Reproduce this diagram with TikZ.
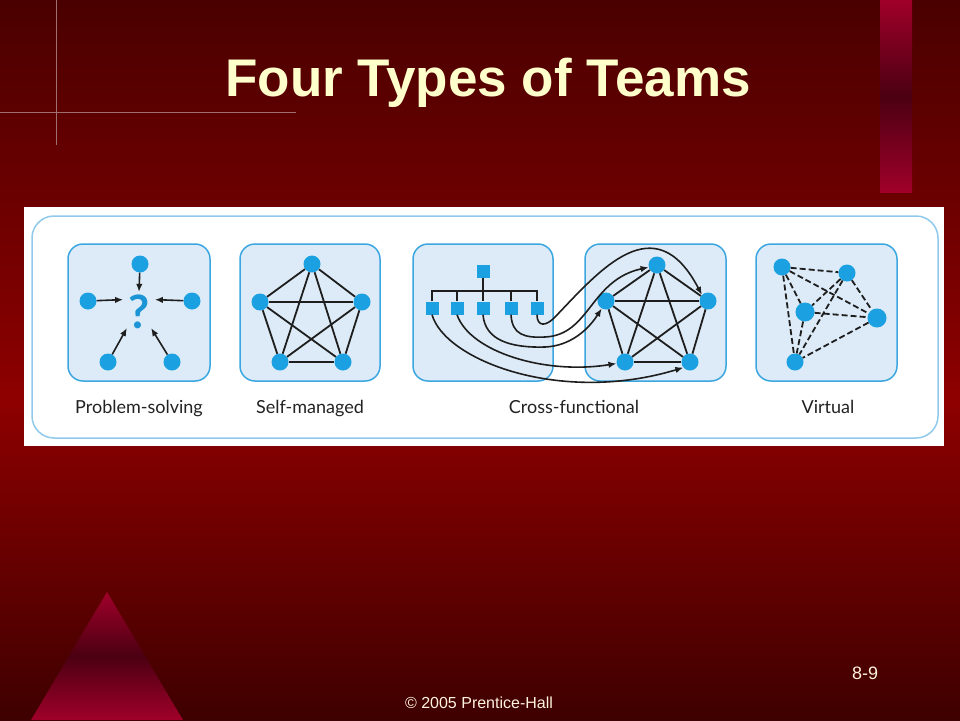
\documentclass[tikz,border=0pt]{standalone}
\usepackage{fontspec}
\setmainfont{Liberation Sans}
\newfontfamily\captionfont{Lato}
\usetikzlibrary{shapes,arrows.meta}

\definecolor{bgtop}{HTML}{4A0000}
\definecolor{bgmid}{HTML}{8E0000}
\definecolor{bgbot}{HTML}{3E0000}
\definecolor{titlecol}{HTML}{FFFFCC}
\definecolor{footcol}{HTML}{FFF3DC}
\definecolor{guide}{HTML}{A07070}
\definecolor{barred}{HTML}{A0002A}
\definecolor{bardark}{HTML}{4B0012}
\definecolor{boxline}{HTML}{3BA6E0}
\definecolor{boxfill}{HTML}{DCEBF7}
\definecolor{frame}{HTML}{8FC9EC}
\definecolor{dotblue}{HTML}{1BA1E2}
\definecolor{qblue}{HTML}{1B95D6}
\definecolor{linkgray}{HTML}{1E1E1E}
\definecolor{captext}{HTML}{222222}

\begin{document}
\begin{tikzpicture}[x=1pt,y=-1pt,
    member/.style={circle,fill=dotblue,minimum size=17pt,inner sep=0pt},
    bigmember/.style={member,minimum size=19pt},
    staff/.style={rectangle,fill=dotblue,minimum size=13pt,inner sep=0pt},
    panel/.style={draw=boxline,fill=boxfill,line width=1.5pt,rounded corners=15pt},
    link/.style={draw=linkgray,line width=1.8pt},
    vlink/.style={link,dash pattern=on 6pt off 3pt},
    flow/.style={-{Latex[length=8pt,width=6.5pt]},line width=1.6pt,draw=linkgray},
    caption/.style={anchor=base,text=captext,font=\captionfont\fontsize{18}{18}\selectfont}]
        \useasboundingbox (0,0) rectangle (960,720);

        % slide background
        \shade[top color=bgtop,bottom color=bgmid] (0,0) rectangle (960,401);
        \shade[top color=bgmid,bottom color=bgbot] (0,400) rectangle (960,720);
        \draw[guide,line width=0.8pt] (56,0) -- (56,145);
        \draw[guide,line width=0.8pt] (0,112) -- (296,112);
        \shade[top color=barred,bottom color=barred,middle color=bardark] (880,0) rectangle (912,192);
        \shade[top color=barred,bottom color=barred,middle color=bardark] (107,592) -- (183,720) -- (31,720) -- cycle;

        \node[anchor=base,text=titlecol,font=\bfseries\fontsize{53}{53}\selectfont] (title) at (488,96) {Four Types of Teams};
        \node[anchor=base,text=footcol,font=\fontsize{16}{16}\selectfont] (copy) at (479,708) {© 2005 Prentice-Hall};
        \node[anchor=base,text=footcol,font=\fontsize{18}{18}\selectfont] (pageno) at (865,679) {8-9};

        % figure
        \fill[white] (24,207) rectangle (944,446);
        \draw[frame,line width=1.5pt,rounded corners=22pt] (32,216) rectangle (938,438);
        \draw[panel] (68,244) rectangle (210,381);
        \draw[panel] (240,244) rectangle (380,381);
        \draw[panel] (413,244) rectangle (553,381);
        \draw[panel] (585,244) rectangle (726,381);
        \draw[panel] (756,244) rectangle (897,381);

        % problem-solving
        \node[circle,minimum size=38pt,inner sep=0pt,text=qblue,font=\captionfont\bfseries\fontsize{46}{46}\selectfont] (q) at (139,312) {?};
        \node[member] (pt) at (140,264) {};
        \node[member] (pl) at (88,301) {};
        \node[member] (pr) at (192,301) {};
        \node[member] (pbl) at (108,362) {};
        \node[member] (pbr) at (172,362) {};
        \draw[flow] (pt) -- (q.north);
        \draw[flow] (pl) -- (q.142);
        \draw[flow] (pr) -- (q.38);
        \draw[flow] (pbl) -- (q.233);
        \draw[flow] (pbr) -- (q.307);

        % self-managed
        \node[member] (st) at (312,264) {};
        \node[member] (sl) at (260,302) {};
        \node[member] (sr) at (362,302) {};
        \node[member] (sbl) at (280,362) {};
        \node[member] (sbr) at (343,362) {};
        \foreach \a/\b in {st/sl,st/sr,st/sbl,st/sbr,sl/sr,sl/sbl,sl/sbr,sr/sbl,sr/sbr,sbl/sbr}
          \draw[link] (\a) -- (\b);

        % cross-functional
        \node[staff] (boss) at (483,271) {};
        \foreach \i/\x in {1/432,2/457,3/483,4/511,5/537}
          \node[staff] (m\i) at (\x,308) {};
        \coordinate (bar) at (537,291);
        \draw[link] (m1) |- (bar) -- (m5);
        \draw[link] (boss) -- (m3);
        \draw[link] (m2) -- (m2 |- bar);
        \draw[link] (m4) -- (m4 |- bar);

        \node[member] (ct) at (657,265) {};
        \node[member] (cl) at (606,301) {};
        \node[member] (cr) at (708,301) {};
        \node[member] (cbl) at (625,362) {};
        \node[member] (cbr) at (690,362) {};
        \foreach \a/\b in {ct/cl,ct/cr,ct/cbl,ct/cbr,cl/cr,cl/cbl,cl/cbr,cr/cbl,cr/cbr,cbl/cbr}
          \draw[link] (\a) -- (\b);

        \draw[flow] (m5.south) .. controls (537,327) and (546,327) .. (556,316)
          .. controls (600,270) and (655,205) .. (cr.north west);
        \draw[flow] (m4.south) .. controls (512,335) and (525,338) .. (545,337)
          .. controls (590,335) and (590,280) .. (ct.195);
        \draw[flow] (m3.south) .. controls (485,340) and (510,348) .. (545,347)
          .. controls (570,346) and (588,330) .. (cl.240);
        \draw[flow] (m2.south) .. controls (470,352) and (545,375) .. (cbl.190);
        \draw[flow] (m1.south) .. controls (445,360) and (560,405) .. (cbr.220);

        % virtual
        \node[member] (v1) at (782,267) {};
        \node[member] (v2) at (847,273) {};
        \node[bigmember] (v3) at (805,312) {};
        \node[bigmember] (v4) at (877,318) {};
        \node[member] (v5) at (795,362) {};
        \foreach \a/\b in {v1/v2,v1/v3,v1/v4,v1/v5,v2/v3,v2/v4,v2/v5,v3/v4,v3/v5,v4/v5}
          \draw[vlink] (\a) -- (\b);

        \node[caption] (lab1) at (139,413) {Problem-solving};
        \node[caption] (lab2) at (310,413) {Self-managed};
        \node[caption] (lab3) at (574,413) {Cross-functional};
        \node[caption] (lab4) at (828,413) {Virtual};
      \end{tikzpicture}
\end{document}
